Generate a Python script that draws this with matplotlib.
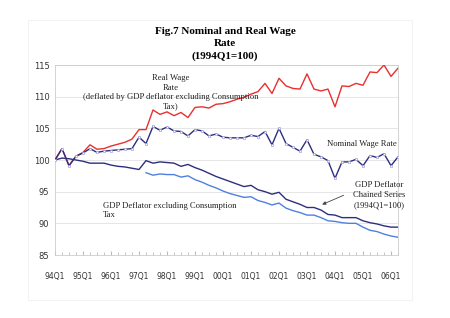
import numpy as np
import matplotlib
matplotlib.use('Agg')
from matplotlib import pyplot as plt
from matplotlib.patches import Rectangle

# quarterly series, 94Q1 .. 06Q2
real_wage = [100.0, 101.8, 99.1, 100.6, 101.2, 102.4, 101.7, 101.8, 102.2, 102.5,
             102.8, 103.3, 104.8, 104.8, 107.9, 107.2, 107.6, 107.0, 107.5, 106.7,
             108.3, 108.4, 108.2, 108.8, 108.9, 109.2, 109.6, 109.9, 110.4, 110.8,
             112.1, 110.5, 112.9, 111.7, 111.3, 111.2, 113.6, 111.2, 110.9, 111.2,
             108.4, 111.7, 111.6, 112.1, 111.8, 113.9, 113.8, 115.0, 113.2, 114.5]
nominal_wage = [100.0, 101.8, 99.1, 100.6, 101.1, 101.8, 101.2, 101.4, 101.5, 101.6,
                101.7, 101.8, 103.6, 102.6, 105.3, 104.7, 105.2, 104.6, 104.5, 103.8,
                104.8, 104.6, 103.8, 104.1, 103.6, 103.5, 103.5, 103.5, 103.9, 103.7,
                104.5, 102.4, 105.0, 102.6, 102.0, 101.4, 103.2, 100.9, 100.5, 99.9,
                97.1, 99.7, 99.7, 100.1, 99.1, 100.7, 100.4, 101.0, 99.1, 100.5]
deflator_chained = [100.0, 100.3, 100.2, 100.0, 99.8, 99.5, 99.5, 99.5, 99.2, 99.0,
                    98.9, 98.7, 98.5, 99.9, 99.5, 99.7, 99.6, 99.5, 99.0, 99.3,
                    98.8, 98.4, 97.9, 97.4, 97.0, 96.6, 96.2, 95.8, 96.0, 95.3,
                    95.0, 94.6, 94.9, 93.8, 93.4, 93.0, 92.5, 92.5, 92.1, 91.4,
                    91.3, 90.9, 90.9, 90.9, 90.4, 90.1, 89.9, 89.6, 89.4, 89.4]
# ex consumption tax, starts 97Q2
deflator_ex_tax = [98.0, 97.6, 97.8, 97.7, 97.7, 97.3, 97.5, 96.9, 96.5, 96.0,
                   95.6, 95.1, 94.7, 94.4, 94.1, 94.2, 93.6, 93.3, 92.9, 93.2,
                   92.4, 92.0, 91.7, 91.3, 91.3, 90.9, 90.4, 90.3, 90.1, 90.0,
                   90.0, 89.4, 88.9, 88.7, 88.3, 88.0, 87.8]
tick_labels = ['94Q1', '95Q1', '96Q1', '97Q1', '98Q1', '99Q1', '00Q1',
               '01Q1', '02Q1', '03Q1', '04Q1', '05Q1', '06Q1']

x = np.arange(len(real_wage))
x_ex = np.arange(len(real_wage) - len(deflator_ex_tax), len(real_wage))

fig = plt.figure(figsize=(4.5, 3.18), dpi=100)
fig.patches.append(Rectangle((28/450, 1-300/318), 384/450, 280/318, transform=fig.transFigure,
                             fill=False, edgecolor='#f0f0f0', lw=0.6))
ax = fig.add_axes([55/450, 1-255/318, 343/450, 190/318])

ax.plot(x, deflator_chained, color='#2e2e7e', lw=1.0, zorder=2)
ax.plot(x_ex, deflator_ex_tax, color='#4f80e0', lw=1.0, zorder=2)
ax.plot(x, real_wage, color='#e8302e', lw=1.0, zorder=3)
ax.plot(x, nominal_wage, color='#2e2e80', lw=1.0, marker='s', ms=1.8,
        mfc='white', mec='#a0a0d4', mew=0.5, zorder=4)

ax.set_xlim(0, 49)
ax.set_ylim(85, 115)
ax.set_yticks([85, 90, 95, 100, 105, 110, 115])
ax.set_xticks(np.arange(0, 49, 4))
ax.set_xticklabels(tick_labels)
ax.set_xticks(np.arange(0, 50, 1), minor=True)
ax.tick_params(axis='x', which='major', direction='in', length=3, color='#bbbbbb',
               labelsize=5.5, pad=12, labelcolor='#333333')
ax.tick_params(axis='x', which='minor', direction='in', length=2, color='#bbbbbb')
ax.tick_params(axis='y', length=0, labelsize=6, pad=4, labelcolor='#333333')
ax.grid(axis='y', color='#e2e2e2', lw=0.6)
for s in ax.spines.values():
    s.set_color('#cccccc')
    s.set_linewidth(0.6)

serif = 'Liberation Serif'
fig.text(0.5, 1-44/318, 'Fig.7 Nominal and Real Wage\nRate\n(1994Q1=100)', ha='center', va='center',
         family=serif, weight='bold', fontsize=8, linespacing=1.45)

ax.text(16.5, 110.7, 'Real Wage\nRate\n(deflated by GDP deflator excluding Consumption\nTax)',
        ha='center', va='center', family=serif, fontsize=6.2, linespacing=1.2, color='#222222')
ax.text(38.8, 102.6, 'Nominal Wage Rate', ha='left', va='center',
        family=serif, fontsize=6.2, color='#222222')
ax.text(6.8, 92.0, 'GDP Deflator excluding Consumption\nTax', ha='left', va='center',
        family=serif, fontsize=6.2, linespacing=1.2, color='#222222')
ax.text(46.3, 94.4, 'GDP Deflator\nChained Series\n(1994Q1=100)', ha='center', va='center',
        family=serif, fontsize=6.2, linespacing=1.35, color='#222222', clip_on=False)
ax.annotate('', xy=(37.8, 92.8), xytext=(41.6, 94.6),
            arrowprops=dict(arrowstyle='-|>', color='#444444', lw=0.6, mutation_scale=5))

fig.savefig('out.png', dpi=100)
